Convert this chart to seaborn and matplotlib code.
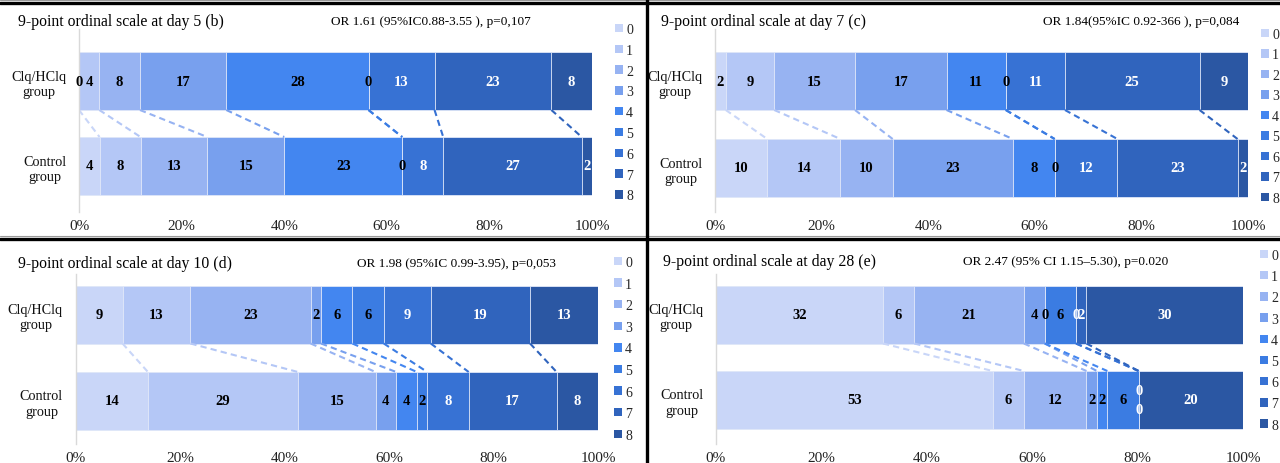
import numpy as np
import pandas as pd
import matplotlib
matplotlib.use("Agg")
import matplotlib.pyplot as plt
from matplotlib.patches import Patch
from matplotlib.lines import Line2D
import seaborn as sns

# ---------------- data ----------------
groups = ["Clq/HClq\ngroup", "Control\ngroup"]
categories = ["0", "1", "2", "3", "4", "5", "6", "7", "8"]

day5_clq = [0, 4, 8, 17, 28, 0, 13, 23, 8]
day5_ctrl = [4, 8, 13, 15, 23, 0, 8, 27, 2]
day7_clq = [2, 9, 15, 17, 11, 0, 11, 25, 9]
day7_ctrl = [10, 14, 10, 23, 8, 0, 12, 23, 2]
day10_clq = [9, 13, 23, 2, 6, 6, 9, 19, 13]
day10_ctrl = [14, 29, 15, 4, 4, 2, 8, 17, 8]
day28_clq = [32, 6, 21, 4, 0, 6, 0, 2, 30]
day28_ctrl = [53, 6, 12, 2, 2, 6, 0, 0, 20]

titles = ["9-point ordinal scale at day 5 (b)",
          "9-point ordinal scale at day 7 (c)",
          "9-point ordinal scale at day 10 (d)",
          "9-point ordinal scale at day 28 (e)"]
or_texts = ["OR 1.61 (95%IC0.88-3.55 ), p=0,107",
            "OR 1.84(95%IC 0.92-366 ), p=0,084",
            "OR 1.98 (95%IC 0.99-3.95), p=0,053",
            "OR 2.47 (95% CI 1.15\u20135.30), p=0.020"]
xtick_labels = ["0%", "20%", "40%", "60%", "80%", "100%"]

colors = ["#C9D6F8", "#B4C7F6", "#97B3F2", "#78A0EE", "#4386F0",
          "#3B7CE2", "#3772D4", "#3064BD", "#2B57A3"]

# ---------------- figure ----------------
W, H = 1280, 464
sns.set_theme(style="white")
plt.rcParams["font.family"] = ["Liberation Serif", "DejaVu Serif"]
fig = plt.figure(figsize=(W / 100, H / 100), dpi=100)
fig.patch.set_facecolor("white")

def px(x, y):
    return x / W, 1 - y / H

panels = [
    dict(x0=79, x1=592, c0=82, c1=167, top=30, bot=213, tx=18, ty=22, ox=431, lx=615, ly=32, ls=22.3),
    dict(x0=715, x1=1248, c0=82, c1=169, top=30, bot=213, tx=661, ty=22, ox=1141, lx=1261, ly=37, ls=22.0),
    dict(x0=75.5, x1=598, c0=315.5, c1=402, top=275, bot=445, tx=18, ty=264, ox=456, lx=614, ly=265, ls=23.1),
    dict(x0=716, x1=1243, c0=315.5, c1=401, top=275, bot=445, tx=663, ty=262, ox=1066, lx=1260, ly=258, ls=22.7),
]
datasets = [(day5_clq, day5_ctrl), (day7_clq, day7_ctrl),
            (day10_clq, day10_ctrl), (day28_clq, day28_ctrl)]

bar_px = 58

for p, (clq, ctrl), title, ortxt in zip(panels, datasets, titles, or_texts):
    unit = p["c1"] - p["c0"]
    ylo = -(p["c0"] - p["top"]) / unit
    yhi = 1 + (p["bot"] - p["c1"]) / unit
    bh = bar_px / unit
    left, _ = px(p["x0"], 0)
    width = (p["x1"] - p["x0"]) / W
    bottom = 1 - p["bot"] / H
    height = (p["bot"] - p["top"]) / H
    ax = fig.add_axes([left, bottom, width, height])

    rows = []
    vals = {groups[0]: np.array(clq, float), groups[1]: np.array(ctrl, float)}
    pct = {g: v / v.sum() * 100 for g, v in vals.items()}
    cum = {g: np.cumsum(pct[g]) for g in groups}
    for g in groups:
        for k, c in enumerate(categories):
            rows.append(dict(group=g, cat=c, cum=cum[g][k]))
    df = pd.DataFrame(rows)

    for k in reversed(range(len(categories))):
        sub = df[df["cat"] == categories[k]]
        sns.barplot(data=sub, x="cum", y="group", order=groups, orient="h",
                    color=colors[k], saturation=1, width=bh, errorbar=None,
                    edgecolor="#E2E9F9", linewidth=0.6, ax=ax)

    # series (connector) lines
    for k in range(len(categories) - 1):
        ax.plot([cum[groups[0]][k], cum[groups[1]][k]], [bh / 2, 1 - bh / 2],
                ls=(0, (3, 2)), color=colors[k], lw=1.5, zorder=1)

    # data labels
    for r, g in enumerate(groups):
        v = vals[g]
        k = 0
        offs = np.zeros(len(v))
        while k < len(v):
            if v[k] == 0:
                j = k
                while j + 1 < len(v) and v[j + 1] == 0:
                    j += 1
                n = j - k + 1
                if n > 1:
                    offs[k:j + 1] = np.linspace(-0.11, 0.11, n)
                k = j + 1
            else:
                k += 1
        for k in range(len(v)):
            xc = cum[g][k] - pct[g][k] / 2
            ax.text(xc, r + offs[k], f"{int(v[k])}", ha="center", va="center",
                    fontsize=10.5, fontweight="bold",
                    color="black" if k < 6 else "white", zorder=5)

    ax.set_xlim(0, 100)
    ax.set_ylim(yhi, ylo)
    ax.set_xticks(np.linspace(0, 100, len(xtick_labels)))
    ax.set_xticklabels(xtick_labels)
    ax.set_xlabel("")
    ax.set_ylabel("")
    ax.tick_params(axis="x", length=0, pad=5, labelsize=11, labelcolor="#222222")
    ax.tick_params(axis="y", length=0, pad=9, labelsize=10.2, labelcolor="#111111")
    for lab in ax.get_yticklabels():
        lab.set_multialignment("center")
        lab.set_linespacing(1.25)
    for s in ["top", "right", "bottom"]:
        ax.spines[s].set_visible(False)
    ax.spines["left"].set_color("#D9D9D9")
    ax.spines["left"].set_linewidth(1.0)
    ax.set_facecolor("none")
    ax.grid(False)

    fig.text(*px(p["tx"], p["ty"]), title, ha="left", va="center", fontsize=11.3, color="black")
    fig.text(*px(p["ox"], p["ty"]), ortxt, ha="center", va="center", fontsize=9.5, color="black")

    handles = [Patch(facecolor=colors[k], edgecolor="none", label=categories[k])
               for k in range(len(categories))]
    fig.legend(handles=handles, loc="upper left",
               bbox_to_anchor=px(p["lx"], p["ly"] - 8),
               frameon=False, fontsize=10, handlelength=0.55, handleheight=0.55,
               handletextpad=0.25, labelspacing=(p["ls"] - 14.5) / 13.9,
               borderpad=0, borderaxespad=0)

# separator lines
fig.add_artist(Line2D([0, 1], [1 - 4 / H] * 2, color="black", lw=2.4, transform=fig.transFigure))
fig.add_artist(Line2D([0, 1], [1 - 0.5 / H] * 2, color="#9A9A9A", lw=0.8, transform=fig.transFigure))
fig.add_artist(Line2D([0, 1], [1 - 240 / H] * 2, color="black", lw=2.4, transform=fig.transFigure))
fig.add_artist(Line2D([0, 1], [1 - 237 / H] * 2, color="#9A9A9A", lw=0.8, transform=fig.transFigure))
fig.add_artist(Line2D([647 / W] * 2, [0, 1], color="black", lw=2.4, transform=fig.transFigure))

fig.savefig("out.png", dpi=100, facecolor="white")
